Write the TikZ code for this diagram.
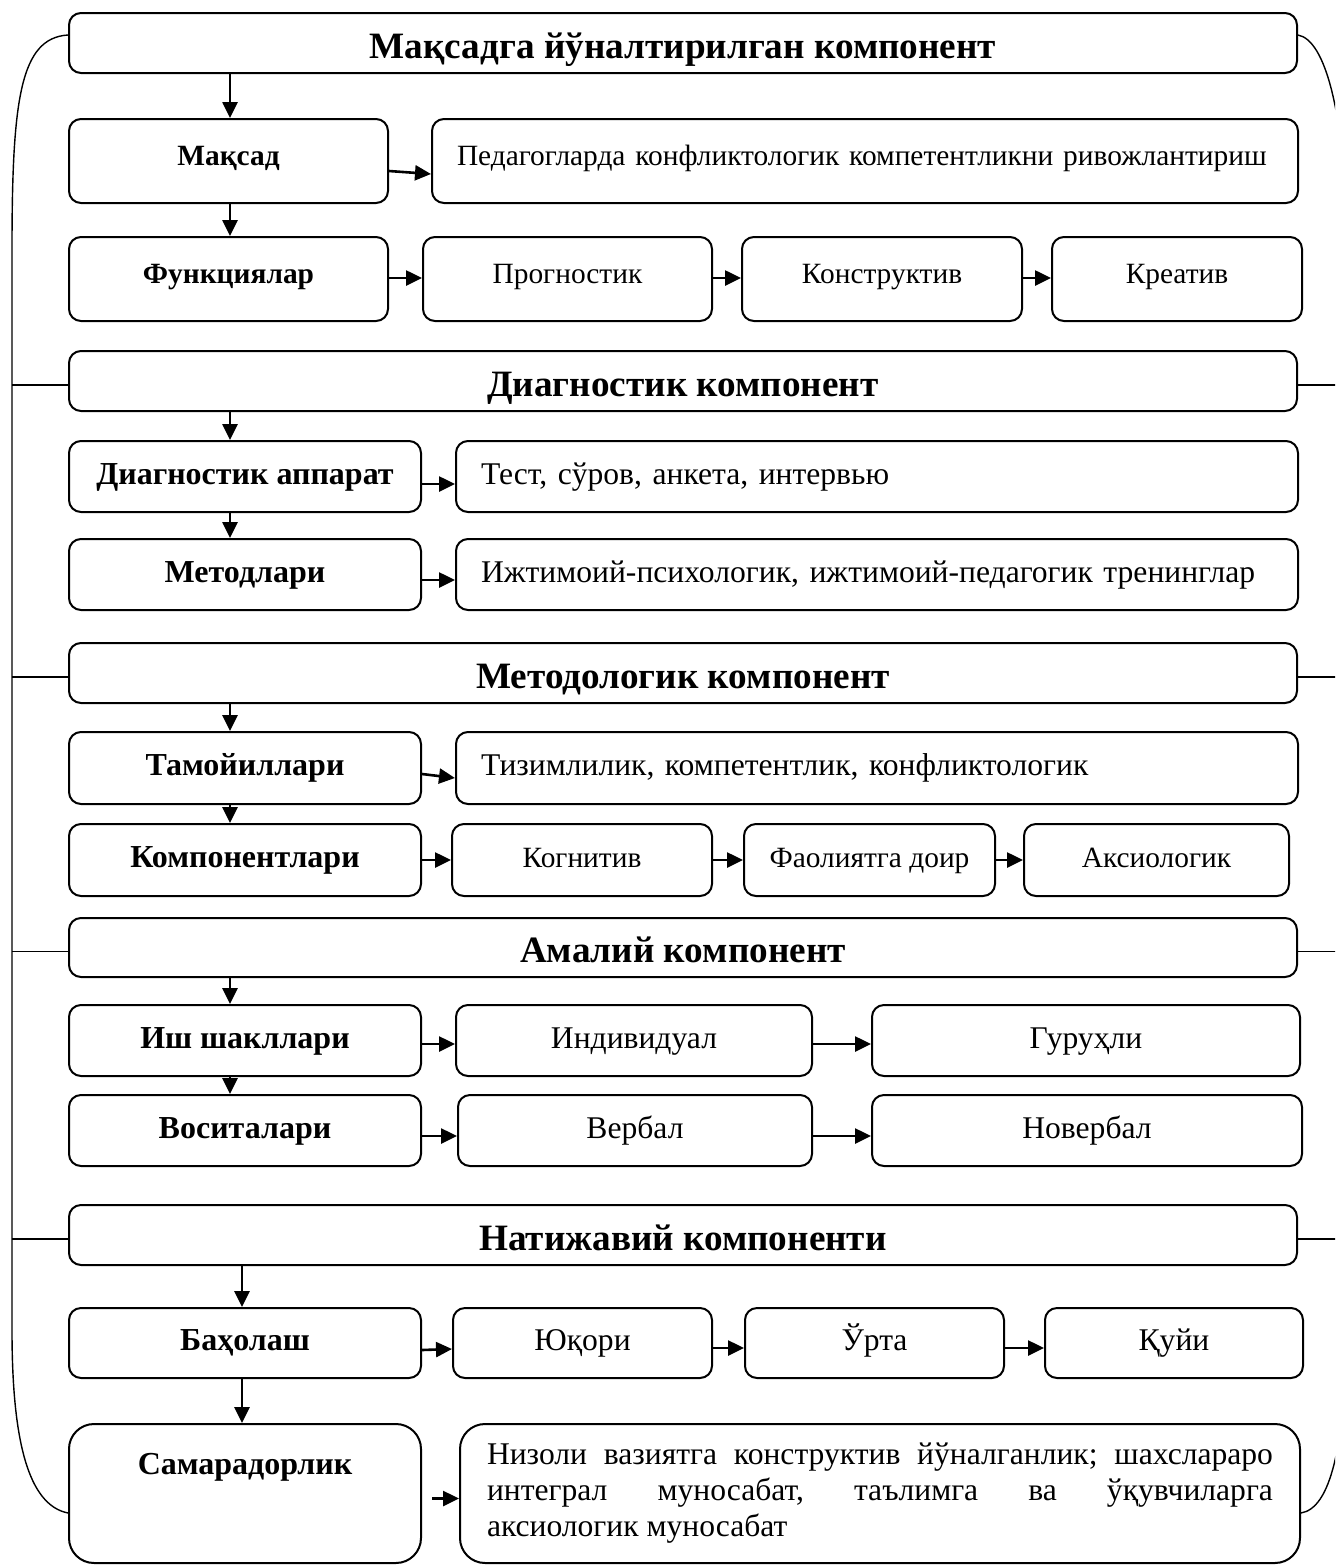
\documentclass[tikz,border=0pt]{standalone}
\usepackage{fontspec}
\setmainfont{Liberation Serif}
\usetikzlibrary{arrows.meta, positioning}

\begin{document}
\frenchspacing
\begin{tikzpicture}[x=0.5pt,y=-0.5pt,line width=1pt,>={Triangle[length=8pt,width=7.5pt]}]

		\tikzset{box st/.style={draw, rounded corners=6pt, inner sep=0pt},
				 hdr st/.style={box st, minimum width=614pt, minimum height=30pt,
								anchor=north west, text height=17pt, text depth=2pt,
								font=\fontsize{18.6}{21}\selectfont\bfseries},
				 lbl st/.style={box st, minimum width=176pt, minimum height=35.5pt,
								anchor=north west, text height=11pt, text depth=3.5pt,
								font=\fontsize{16}{19}\selectfont\bfseries},
				 itm st/.style={box st, minimum height=35.5pt,
								text height=11pt, text depth=3.5pt,
								font=\fontsize{15.8}{18}\selectfont},
				 txt st/.style={itm st, align=left, inner xsep=12.5pt},
				 up st/.style={text height=10pt, text depth=6pt},
				 small/.style={font=\fontsize{14.7}{17}\selectfont},
				 small bf/.style={font=\fontsize{14.7}{17}\selectfont\bfseries},
				 arr/.style={->, line width=1.3pt},
				 brk/.style={line width=0.7pt}}

		\clip (0,0) rectangle (1335,1565);

		\coordinate (cL) at (12,0);
		\coordinate (cR) at (1348,0);
		\coordinate (cA) at (230,0);
		\coordinate (cB) at (242,0);

		% target component
		\node[hdr st] (H1) at (68,12) {Мақсадга йўналтирилган компонент};
		\node[lbl st, up st, small bf, minimum width=159.5pt, minimum height=42pt] (M) at (68,118) {Мақсад};
		\node[txt st, up st, small, text width=408pt, minimum height=42pt, right=21pt of M] (G)
			{Педагогларда конфликтологик компетентликни ривожлантириш};
		\node[lbl st, up st, small bf, minimum width=159.5pt, minimum height=42pt] (F) at (68,236) {Функциялар};
		\node[itm st, up st, small, minimum width=144.5pt, minimum height=42pt, right=16.5pt of F] (F1) {Прогностик};
		\node[itm st, up st, small, minimum width=140pt, minimum height=42pt, right=14pt of F1] (F2) {Конструктив};
		\node[itm st, up st, small, minimum width=125pt, minimum height=42pt, right=14pt of F2] (F3) {Креатив};

		% diagnostic component
		\node[hdr st] (H2) at (68,350) {Диагностик компонент};
		\node[lbl st] (D) at (68,440) {Диагностик аппарат};
		\node[txt st, text width=396pt, right=16.5pt of D] (D1) {Тест, сўров, анкета, интервью};
		\node[lbl st] (Mt) at (68,538) {Методлари};
		\node[txt st, text width=396pt, right=16.5pt of Mt] (Mt1)
			{Ижтимоий-психологик, ижтимоий-педагогик тренинглар};

		% methodological component
		\node[hdr st] (H3) at (68,642) {Методологик компонент};
		\node[lbl st, minimum height=36pt] (Tm) at (68,731) {Тамойиллари};
		\node[txt st, text width=396pt, minimum height=36pt, right=16.5pt of Tm] (Tm1)
			{Тизимлилик, компетентлик, конфликтологик};
		\node[lbl st, minimum height=36pt] (K) at (68,823) {Компонентлари};
		\node[itm st, small, minimum width=130pt, minimum height=36pt, right=14.5pt of K] (K1) {Когнитив};
		\node[itm st, small, minimum width=125.5pt, minimum height=36pt, right=15pt of K1] (K2) {Фаолиятга доир};
		\node[itm st, small, minimum width=132.5pt, minimum height=36pt, right=13.5pt of K2] (K3) {Аксиологик};

		% practical component
		\node[hdr st, minimum height=29.5pt] (H4) at (68,917) {Амалий компонент};
		\node[lbl st] (Sh) at (68,1004) {Иш шакллари};
		\node[itm st, minimum width=178pt, right=16.5pt of Sh] (Sh1) {Индивидуал};
		\node[itm st, minimum width=214pt, right=29pt of Sh1] (Sh2) {Гуруҳли};
		\node[lbl st] (V) at (68,1094) {Воситалари};
		\node[itm st, minimum width=177pt, right=17.5pt of V] (V1) {Вербал};
		\node[itm st, minimum width=215pt, right=29pt of V1] (V2) {Новербал};

		% result component
		\node[hdr st] (H5) at (68,1204) {Натижавий компоненти};
		\node[lbl st, minimum height=35pt] (B) at (68,1307) {Баҳолаш};
		\node[itm st, minimum width=129.5pt, minimum height=35pt, right=15pt of B] (B1) {Юқори};
		\node[itm st, minimum width=129.5pt, minimum height=35pt, right=15.5pt of B1] (B2) {Ўрта};
		\node[itm st, minimum width=129pt, minimum height=35pt, right=19.5pt of B2] (B3) {Қуйи};
		\node[lbl st, rounded corners=12.5pt, minimum height=69.5pt,
			  text height=25pt, text depth=44.5pt] (Sm) at (68,1423) {Самарадорлик};
		\node[box st, rounded corners=12.5pt, minimum height=69.5pt, text width=393pt,
			  inner xsep=13.5pt, align=justify, font=\fontsize{15.8}{18}\selectfont,
			  right=18.5pt of Sm] (N)
			{Низоли вазиятга конструктив йўналганлик; шахслараро\linebreak
			 интеграл муносабат, таълимга ва ўқувчиларга\linebreak
			 аксиологик муносабат};

		% down arrows
		\draw[arr] (cA |- H1.south) -- (cA |- M.north);
		\draw[arr] (cA |- M.south) -- (cA |- F.north);
		\draw[arr] (cA |- H2.south) -- (cA |- D.north);
		\draw[arr] (cA |- D.south) -- (cA |- Mt.north);
		\draw[arr] (cA |- H3.south) -- (cA |- Tm.north);
		\draw[arr] (cA |- Tm.south) -- (cA |- K.north);
		\draw[arr] (cA |- H4.south) -- (cA |- Sh.north);
		\draw[arr] (cA |- Sh.south) -- (cA |- V.north);
		\draw[arr] (cB |- H5.south) -- (cB |- B.north);
		\draw[arr] (cB |- B.south) -- (cB |- Sm.north);

		% side arrows
		\draw[arr] ([yshift=-5pt]M.east) -- ([yshift=-6.5pt]G.west);
		\draw[arr] ([yshift=0.5pt]F.east) -- ([yshift=0.5pt]F1.west);
		\draw[arr] ([yshift=0.5pt]F1.east) -- ([yshift=0.5pt]F2.west);
		\draw[arr] ([yshift=0.5pt]F2.east) -- ([yshift=0.5pt]F3.west);
		\draw[arr] ([yshift=-3.75pt]D.east) -- ([yshift=-3.75pt]D1.west);
		\draw[arr] ([yshift=-2.75pt]Mt.east) -- ([yshift=-2.75pt]Mt1.west);
		\draw[arr] ([yshift=-3pt]Tm.east) -- ([yshift=-5pt]Tm1.west);
		\draw[arr] (K.east) -- (K1.west);
		\draw[arr] (K1.east) -- (K2.west);
		\draw[arr] (K2.east) -- (K3.west);
		\draw[arr] ([yshift=-1.75pt]Sh.east) -- ([yshift=-1.75pt]Sh1.west);
		\draw[arr] ([yshift=-1.75pt]Sh1.east) -- ([yshift=-1.75pt]Sh2.west);
		\draw[arr] ([yshift=-2.75pt]V.east) -- ([yshift=-2.75pt]V1.west);
		\draw[arr] ([yshift=-2.75pt]V1.east) -- ([yshift=-2.75pt]V2.west);
		\draw[arr] ([yshift=-3.5pt]B.east) -- ([yshift=-3pt]B1.west);
		\draw[arr] ([yshift=-2.5pt]B1.east) -- ([yshift=-2.5pt]B2.west);
		\draw[arr] ([yshift=-2.5pt]B2.east) -- ([yshift=-2.5pt]B3.west);
		\draw[arr] ([xshift=5pt,yshift=-2.5pt]Sm.east) -- ([yshift=-2.5pt]N.west);

		% outer brackets
		\draw[brk] ([yshift=4pt]H1.west) .. controls (20,38) and (12,100) .. (12,250)
			-- (12,1330) .. controls (12,1440) and (28,1505) .. ([yshift=-9.75pt]Sm.west);
		\draw[brk] ([yshift=4pt]H1.east) .. controls (1325,40) and (1345,110) .. (1348,250)
			-- (1348,1320) .. controls (1345,1450) and (1330,1508) .. ([yshift=-9.75pt]N.east);
		\foreach \h in {H2,H3,H4,H5}{
			\coordinate (hw) at ([yshift=-2pt]\h.west);
			\coordinate (he) at ([yshift=-2pt]\h.east);
			\draw[brk] (hw) -- (cL |- hw);
			\draw[brk] (he) -- (cR |- he);
		}
		\end{tikzpicture}
\end{document}
